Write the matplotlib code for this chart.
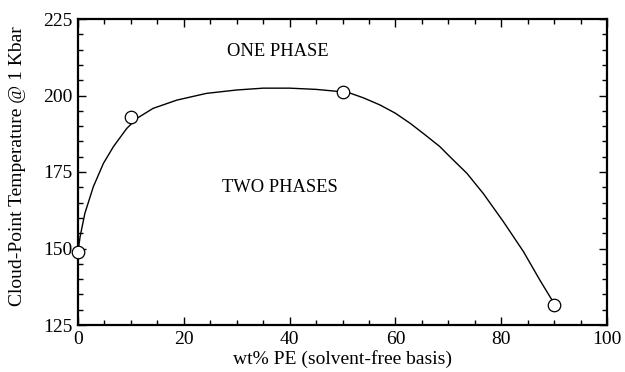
import matplotlib.pyplot as plt
from matplotlib.ticker import MultipleLocator

# measured cloud points
wt_pe = [0, 10, 50, 90]
cloud_t = [149, 193, 201, 131.5]

# hand-drawn boundary curve through the points
curve_x = [0, 0.4, 1.3, 2.9, 4.8, 6.7, 9.2, 11.1, 14.2, 18.7, 24.3, 30, 35, 40,
           45, 50, 51.4, 54, 57.1, 60, 62.8, 65.5, 68.4, 70.3, 73.5, 76.6,
           80.4, 84.2, 87.3, 89.2, 89.6]
curve_t = [149, 153.9, 161.5, 170.2, 177.8, 183.3, 189.2, 192.5, 195.8, 198.5,
           200.7, 201.8, 202.4, 202.4, 202.0, 201.2, 200.8, 199.2, 196.9, 194.2,
           190.9, 187.3, 183.3, 180.0, 174.6, 168.0, 158.8, 149.0, 139.7, 134.3,
           133.2]

plt.rcParams["font.family"] = ["Liberation Serif", "DejaVu Serif"]

fig = plt.figure(figsize=(6.25, 3.72), dpi=100)
ax = fig.add_axes([78 / 625, 1 - 325 / 372, (607 - 78) / 625, (325 - 19) / 372])

ax.plot(curve_x, curve_t, color="black", lw=1.0, zorder=2)
ax.plot(wt_pe, cloud_t, "o", ms=9, mfc="white", mec="black", mew=0.9,
        clip_on=False, zorder=3)

ax.text(28.2, 214.4, "ONE PHASE", fontsize=13.3, va="center", ha="left")
ax.text(27.2, 170.0, "TWO PHASES", fontsize=13.3, va="center", ha="left")

ax.set_xlim(0, 100)
ax.set_ylim(125, 225)
ax.xaxis.set_major_locator(MultipleLocator(20))
ax.xaxis.set_minor_locator(MultipleLocator(5))
ax.yaxis.set_major_locator(MultipleLocator(25))
ax.yaxis.set_minor_locator(MultipleLocator(5))
ax.tick_params(which="both", direction="in", top=True, right=True,
               labelsize=14, width=1.0, pad=4)
ax.tick_params(which="major", length=6)
ax.tick_params(which="minor", length=3.5)
for s in ax.spines.values():
    s.set_linewidth(1.6)

ax.set_xlabel("wt% PE (solvent-free basis)", fontsize=14, labelpad=2)
ax.set_ylabel("Cloud-Point Temperature @ 1 Kbar", fontsize=14)
ax.yaxis.set_label_coords(-0.098, 0.52)

fig.savefig("out.png", dpi=100)
